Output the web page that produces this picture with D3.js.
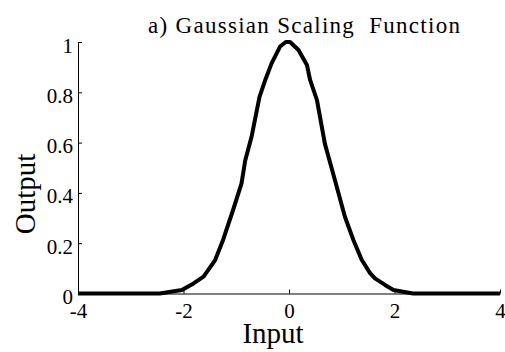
<!DOCTYPE html>
<html>
<head>
<meta charset="utf-8">
<script src="https://cdn.jsdelivr.net/npm/d3@7"></script>
<style>
  html, body { margin: 0; padding: 0; background: #fff; }
  svg { display: block; }
  svg text { font-family: "Liberation Serif", "Times New Roman", Times, serif !important; fill: #000; }
</style>
</head>
<body>
<svg id="chart" width="505" height="352"></svg>
<script>
// Gaussian scaling function samples (input -> output)
const inputs  = [-4, -2.45, -2.03, -1.81, -1.62, -1.40, -1.25, -1.06, -0.90, -0.83, -0.71, -0.56, -0.45, -0.33, -0.17, -0.06, 0.02, 0.18, 0.34, 0.40, 0.53, 0.68, 0.87, 1.06, 1.22, 1.38, 1.54, 1.63, 1.82, 1.98, 2.35, 4];
const outputs = [0, 0, 0.014, 0.04, 0.067, 0.133, 0.213, 0.332, 0.438, 0.529, 0.623, 0.781, 0.849, 0.915, 0.982, 1.0, 1.0, 0.968, 0.909, 0.849, 0.769, 0.596, 0.451, 0.305, 0.213, 0.133, 0.080, 0.060, 0.034, 0.014, 0, 0];

const xTicks = [-4, -2, 0, 2, 4];
const yTicks = [0, 0.2, 0.4, 0.6, 0.8, 1];

const titleText = "a) Gaussian Scaling\u00a0 Function";
const xLabel = "Input";
const yLabel = "Output";

const serif = '"Liberation Serif", "Times New Roman", Times, serif';

const svg = d3.select("#chart");
const plotLeft = 78, plotRight = 500, plotTop = 42, plotBottom = 293.5;

const x = d3.scaleLinear().domain([-4, 4]).range([plotLeft, plotRight]);
const y = d3.scaleLinear().domain([0, 1]).range([plotBottom, plotTop]);

// x axis, ticks pointing inward
const gx = svg.append("g")
  .attr("transform", `translate(0,${plotBottom})`)
  .call(d3.axisBottom(x).tickValues(xTicks).tickFormat(d => String(d))
    .tickSizeInner(-4).tickSizeOuter(0).tickPadding(0));
gx.attr("font-family", serif).attr("font-size", 21);
gx.select(".domain").attr("stroke", "#000").attr("stroke-width", 1);
gx.selectAll(".tick line").attr("stroke", "#000");
gx.selectAll(".tick text")
  .style("font-family", serif).style("font-size", "21px")
  .attr("y", 24.5).attr("dy", null);

// y axis, ticks pointing inward
const gy = svg.append("g")
  .attr("transform", `translate(${plotLeft},0)`)
  .call(d3.axisLeft(y).tickValues(yTicks).tickFormat(d => String(d))
    .tickSizeInner(-4).tickSizeOuter(0).tickPadding(5));
gy.attr("font-family", serif).attr("font-size", 21);
gy.select(".domain").attr("stroke", "#000").attr("stroke-width", 1);
gy.selectAll(".tick line").attr("stroke", "#000");
gy.selectAll(".tick text")
  .style("font-family", serif).style("font-size", "21px")
  .attr("dy", 10).attr("x", -5);

// the curve
const pts = inputs.map((v, i) => [v, outputs[i]]);
svg.append("path")
  .datum(pts)
  .attr("fill", "none")
  .attr("stroke", "#000")
  .attr("stroke-width", 4)
  .attr("stroke-linejoin", "round")
  .attr("d", d3.line().x(d => x(d[0])).y(d => y(d[1])));

// title
svg.append("text")
  .attr("x", 304).attr("y", 33)
  .attr("text-anchor", "middle")
  .style("font-family", serif).style("font-size", "23px")
  .attr("textLength", 312).attr("lengthAdjust", "spacing")
  .text(titleText);

// axis labels
svg.append("text")
  .attr("x", 273).attr("y", 343)
  .attr("text-anchor", "middle")
  .style("font-family", serif).style("font-size", "29px")
  .text(xLabel);

svg.append("text")
  .attr("transform", "translate(35,194) rotate(-90)")
  .attr("text-anchor", "middle")
  .style("font-family", serif).style("font-size", "29px")
  .text(yLabel);
</script>
</body>
</html>
